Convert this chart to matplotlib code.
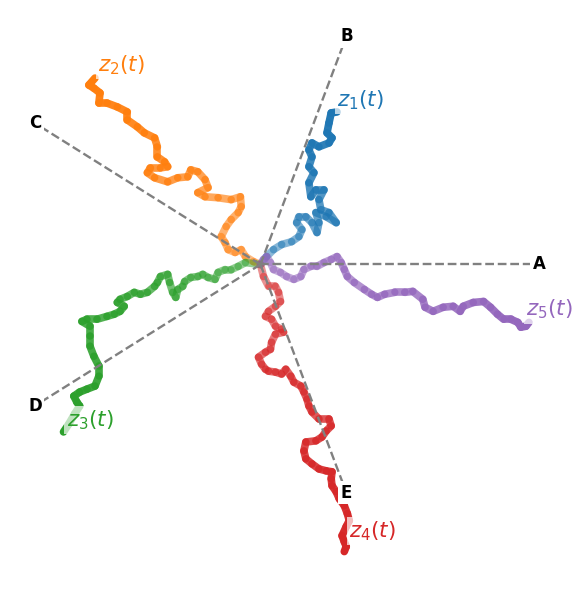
import numpy as np
import matplotlib
matplotlib.use('Agg')
import matplotlib.pyplot as plt
from matplotlib.collections import LineCollection
from matplotlib.colors import to_rgba

# pentagon vertices (unit radius), labels A..E
vertex_labels = ['A', 'B', 'C', 'D', 'E']
vertex_angles = [0, 72, 144, 216, 288]

# traced walk paths (data units, start at origin)
z1_x = [0, 0.022, 0.047, 0.076, 0.112, 0.138, 0.149, 0.130, 0.138, 0.163, 0.185, 0.203, 0.210, 0.199,
        0.236, 0.272, 0.246, 0.217, 0.210, 0.228, 0.199, 0.181, 0.174, 0.192, 0.174, 0.185, 0.174,
        0.185, 0.210, 0.246, 0.257, 0.239, 0.246, 0.254, 0.275]
z1_y = [0, 0.033, 0.062, 0.083, 0.095, 0.116, 0.145, 0.174, 0.199, 0.199, 0.174, 0.133, 0.174, 0.216,
        0.199, 0.174, 0.216, 0.228, 0.270, 0.311, 0.311, 0.282, 0.340, 0.382, 0.407, 0.448, 0.477,
        0.506, 0.490, 0.506, 0.527, 0.548, 0.589, 0.631, 0.635]

z2_x = [0, -0.025, -0.054, -0.069, -0.091, -0.116, -0.127, -0.141, -0.123, -0.105, -0.080, -0.069,
        -0.072, -0.105, -0.152, -0.199, -0.225, -0.188, -0.199, -0.225, -0.250, -0.261, -0.297,
        -0.333, -0.380, -0.406, -0.395, -0.359, -0.333, -0.344, -0.370, -0.370, -0.380, -0.417,
        -0.442, -0.478, -0.478, -0.514, -0.551, -0.580, -0.576, -0.598, -0.616, -0.594]
z2_y = [0, 0.012, 0.033, 0.062, 0.050, 0.062, 0.091, 0.116, 0.158, 0.187, 0.216, 0.241, 0.282, 0.270,
        0.278, 0.282, 0.299, 0.320, 0.353, 0.386, 0.394, 0.365, 0.361, 0.344, 0.361, 0.382, 0.402,
        0.402, 0.407, 0.427, 0.448, 0.490, 0.527, 0.548, 0.573, 0.602, 0.635, 0.656, 0.672, 0.672,
        0.714, 0.734, 0.747, 0.776]

z3_x = [0, -0.054, -0.080, -0.105, -0.127, -0.152, -0.163, -0.188, -0.207, -0.225, -0.250, -0.272,
        -0.279, -0.297, -0.304, -0.315, -0.326, -0.333, -0.359, -0.370, -0.380, -0.406, -0.431,
        -0.453, -0.478, -0.504, -0.514, -0.489, -0.504, -0.525, -0.551, -0.587, -0.623, -0.641,
        -0.612, -0.612, -0.612, -0.598, -0.580, -0.580, -0.594, -0.623, -0.649, -0.670, -0.659,
        -0.649, -0.667, -0.688, -0.707]
z3_y = [0, 0.008, -0.008, -0.021, -0.021, -0.033, -0.062, -0.054, -0.041, -0.050, -0.054, -0.071,
        -0.091, -0.104, -0.137, -0.116, -0.075, -0.041, -0.050, -0.075, -0.091, -0.116, -0.124,
        -0.116, -0.133, -0.145, -0.158, -0.174, -0.195, -0.207, -0.216, -0.228, -0.228, -0.237,
        -0.257, -0.299, -0.340, -0.382, -0.423, -0.465, -0.506, -0.519, -0.531, -0.548, -0.573,
        -0.589, -0.622, -0.664, -0.697]

z4_x = [0, 0.011, 0.029, 0.054, 0.065, 0.072, 0.054, 0.029, 0.018, 0.040, 0.054, 0.076, 0.083, 0.054,
        0.040, 0.036, 0.018, -0.007, 0.004, 0.018, 0.029, 0.054, 0.076, 0.091, 0.109, 0.120, 0.145,
        0.156, 0.167, 0.174, 0.185, 0.210, 0.246, 0.254, 0.236, 0.221, 0.199, 0.163, 0.156, 0.163,
        0.185, 0.210, 0.236, 0.257, 0.254, 0.257, 0.272, 0.283, 0.301, 0.312, 0.319, 0.308, 0.293,
        0.301, 0.308, 0.301]
z4_y = [0, -0.050, -0.091, -0.091, -0.116, -0.154, -0.174, -0.195, -0.216, -0.228, -0.257, -0.270,
        -0.282, -0.290, -0.324, -0.353, -0.365, -0.386, -0.415, -0.436, -0.444, -0.448, -0.456,
        -0.436, -0.465, -0.490, -0.506, -0.531, -0.560, -0.589, -0.614, -0.643, -0.643, -0.672,
        -0.693, -0.718, -0.734, -0.739, -0.776, -0.809, -0.830, -0.851, -0.859, -0.863, -0.892,
        -0.921, -0.946, -0.975, -1.004, -1.037, -1.066, -1.091, -1.129, -1.154, -1.174, -1.195]

z5_x = [0, 0.011, 0.022, 0.036, 0.047, 0.072, 0.094, 0.120, 0.145, 0.156, 0.181, 0.203, 0.228, 0.254,
        0.275, 0.290, 0.301, 0.312, 0.337, 0.373, 0.399, 0.420, 0.446, 0.482, 0.518, 0.547, 0.583,
        0.591, 0.620, 0.656, 0.692, 0.717, 0.728, 0.764, 0.801, 0.826, 0.851, 0.873, 0.899, 0.924,
        0.935, 0.953, 0.964]
z5_y = [0, 0.021, 0.033, 0.008, -0.021, -0.033, -0.050, -0.062, -0.050, -0.021, -0.008, -0.008, 0.008,
        0.021, 0.033, 0.008, -0.021, -0.050, -0.075, -0.104, -0.124, -0.137, -0.124, -0.116, -0.116,
        -0.112, -0.145, -0.178, -0.195, -0.178, -0.174, -0.195, -0.174, -0.158, -0.154, -0.178,
        -0.207, -0.228, -0.228, -0.241, -0.261, -0.257, -0.241]

paths = [(z1_x, z1_y), (z2_x, z2_y), (z3_x, z3_y), (z4_x, z4_y), (z5_x, z5_y)]
path_labels = ['$z_1(t)$', '$z_2(t)$', '$z_3(t)$', '$z_4(t)$', '$z_5(t)$']
colors = ['tab:blue', 'tab:orange', 'tab:green', 'tab:red', 'tab:purple']
# label offsets from the end point, pixels
offsets = [(0, 0), (3, 1), (3, 0), (5, 9), (-3, 1)]

fig = plt.figure(figsize=(5.83, 5.90), dpi=100)
ax = fig.add_axes([0, 0, 1, 1])

for (px, py), col, lab, off in zip(paths, colors, path_labels, offsets):
    pts = np.column_stack([px, py])
    segs = np.stack([pts[:-1], pts[1:]], axis=1)
    alphas = np.linspace(0.5, 1.0, len(segs))
    cols = [to_rgba(col, a) for a in alphas]
    lc = LineCollection(segs, colors=cols, linewidths=5.5, capstyle='round', joinstyle='round')
    ax.add_collection(lc)
    ax.annotate(lab, (px[-1], py[-1]), xytext=off, textcoords='offset pixels',
                ha='left', va='bottom', fontsize=15.5, color=col,
                bbox=dict(boxstyle='square,pad=0.1', fc='white', ec='none', alpha=0.7))

for lab, ang in zip(vertex_labels, vertex_angles):
    vx, vy = np.cos(np.radians(ang)), np.sin(np.radians(ang))
    ax.plot([0, vx], [0, vy], '--', color='gray', lw=1.7, zorder=3)
    ax.text(vx, vy, lab, ha='center', va='center', fontsize=12, fontweight='bold', zorder=4,
            bbox=dict(boxstyle='square,pad=0.15', fc='white', ec='none'))

ax.set_xlim(-0.935, 1.158)
ax.set_ylim(-1.355, 1.101)
ax.axis('off')

fig.savefig('out.png', dpi=100)
